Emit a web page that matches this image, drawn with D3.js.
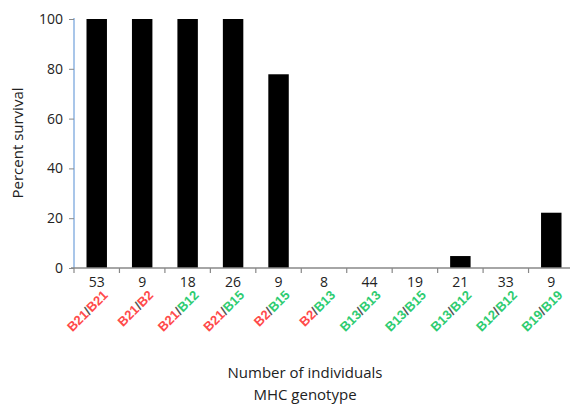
<!DOCTYPE html>
<html><head><meta charset="utf-8">
<script src="https://cdn.jsdelivr.net/npm/d3@7"></script>
<style>body{margin:0;background:#fff;} svg{display:block;}</style>
</head><body>
<svg id="c" width="570" height="406"></svg>
<script>
const counts = ["53","9","18","26","9","8","44","19","21","33","9"];
const allele1 = ["B21","B21","B21","B21","B2","B2","B13","B13","B13","B12","B19"];
const allele2 = ["B21","B2","B12","B15","B15","B13","B13","B15","B12","B12","B19"];
const survival = [100,100,100,100,77.8,0,0,0,4.8,0,22.2];
const yTicks = [0,20,40,60,80,100];
const redAlleles = ["B21","B2"];

(function(){
const svg = d3.select("#c");
const mLeft = 74, mRight = 574, mTop = 19, mBottom = 268;
const x = d3.scaleBand().domain(d3.range(counts.length)).range([mLeft, mRight]).paddingInner(0.55).paddingOuter(0.275);
const xb = d3.scaleBand().domain(d3.range(counts.length)).range([mLeft, mRight]);
const y = d3.scaleLinear().domain([0,100]).range([mBottom, mTop]);
const font = "'Open Sans', 'Liberation Sans', sans-serif";
const labFont = "'Liberation Sans', Arial, sans-serif";

// bars
svg.selectAll("rect.bar").data(survival).join("rect").attr("class","bar")
  .attr("x",(d,i)=>x(i)).attr("width",x.bandwidth())
  .attr("y",d=>y(d)).attr("height",d=>mBottom-y(d)).attr("fill","#000");

// y axis
const ya = svg.append("g").attr("transform",`translate(${mLeft},0)`)
  .call(d3.axisLeft(y).tickValues(yTicks).tickSize(5).tickPadding(6));
ya.select(".domain").attr("stroke","#8db3e2").attr("stroke-width",1.5).attr("d",`M0,${mBottom}V${mTop-1}`);
ya.selectAll(".tick line").attr("stroke","#888");
ya.selectAll(".tick text").attr("font-family",font).attr("font-size",14).attr("fill","#222");

// x axis line and ticks
svg.append("line").attr("x1",mLeft-3).attr("x2",mRight).attr("y1",mBottom).attr("y2",mBottom).attr("stroke","#888").attr("stroke-width",1.5);
svg.selectAll("line.xt").data(d3.range(counts.length+1)).join("line").attr("class","xt")
  .attr("x1",i=>mLeft+i*xb.step()).attr("x2",i=>mLeft+i*xb.step())
  .attr("y1",mBottom).attr("y2",mBottom+5).attr("stroke","#888").attr("stroke-width",1.2);

// counts
svg.selectAll("text.cnt").data(counts).join("text").attr("class","cnt")
  .attr("x",(d,i)=>xb(i)+xb.bandwidth()/2).attr("y",mBottom+19)
  .attr("text-anchor","middle").attr("font-family",font).attr("font-size",14).attr("fill","#222").text(d=>d);

// genotype labels: each in a rotated group, three separate text pieces
const col = a => redAlleles.includes(a) ? "#ff4a4a" : "#2ecc71";
counts.forEach((c,i)=>{
  const g = svg.append("g").attr("class","gen")
    .attr("transform","translate(" + (xb(i)+xb.bandwidth()/2+12).toFixed(1) + "," + (mBottom+28) + ") rotate(-45)");
  const style = s => s.attr("text-anchor","end").attr("font-family",labFont).attr("font-size",13).attr("font-weight","bold");
  const t2 = g.append("text").call(style).attr("x",0).attr("fill",col(allele2[i])).text(allele2[i]);
  const w2 = t2.node().getComputedTextLength();
  const ts = g.append("text").call(style).attr("x",-w2).attr("fill","#555").text("/");
  const ws = ts.node().getComputedTextLength();
  g.append("text").call(style).attr("x",-w2-ws).attr("fill",col(allele1[i])).text(allele1[i]);
});

// titles
svg.append("text").attr("x",305).attr("y",378).attr("text-anchor","middle")
  .attr("font-family",font).attr("font-size",15).attr("fill","#222").text("Number of individuals");
svg.append("text").attr("x",305).attr("y",400).attr("text-anchor","middle")
  .attr("font-family",font).attr("font-size",15).attr("fill","#222").text("MHC genotype");
svg.append("text").attr("transform","translate(23,143) rotate(-90)").attr("text-anchor","middle")
  .attr("font-family",font).attr("font-size",15).attr("fill","#222").text("Percent survival");
})();
</script>
</body></html>
